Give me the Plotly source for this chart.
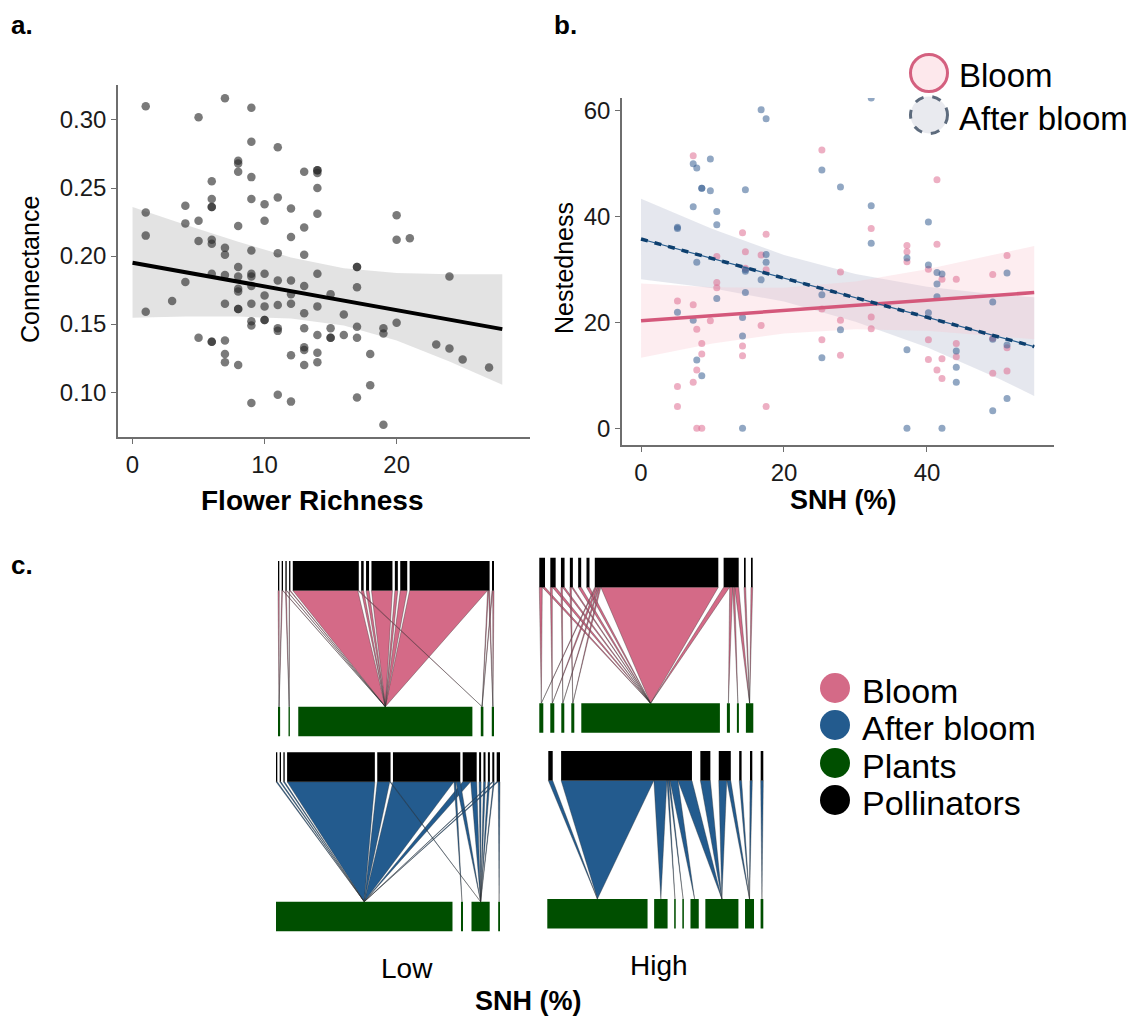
import plotly.graph_objects as go

W, H = 1134, 1017
FONT = "Arial, 'Liberation Sans', Helvetica, sans-serif"


def px(x):
    return x / W


def py(y):
    return 1 - y / H


# ---------------- Panel a: connectance vs flower richness ----------------
richness = [1, 1, 1, 1, 3, 4, 4, 4, 5, 5, 5, 5,
            6, 6, 6, 6, 6, 6, 6, 6, 6,
            7, 7, 7, 7, 7, 7, 7, 7,
            8, 8, 8, 8, 8, 8, 8, 8, 8, 8, 8,
            9, 9, 9, 9, 9, 9, 9, 9, 9, 9, 9, 9,
            10, 10, 10, 10, 10, 10, 10,
            11, 11, 11, 11, 11, 11, 11, 11,
            12, 12, 12, 12, 12, 12, 12,
            13, 13, 13, 13, 13, 13, 13, 13, 13,
            14, 14, 14, 14, 14, 14, 14, 14, 14, 14,
            15, 15, 15, 15, 16, 16,
            17, 17, 17, 17, 17, 17, 18, 18, 19, 19, 19,
            20, 20, 20, 21, 23, 24, 24, 25, 27]
connectance = [0.310, 0.232, 0.215, 0.159, 0.167, 0.237, 0.224, 0.181, 0.302, 0.226, 0.211, 0.140,
               0.255, 0.242, 0.236, 0.236, 0.212, 0.209, 0.187, 0.137, 0.137,
               0.316, 0.206, 0.201, 0.186, 0.165, 0.138, 0.128, 0.122,
               0.270, 0.268, 0.262, 0.222, 0.192, 0.185, 0.176, 0.174, 0.161, 0.161, 0.120,
               0.309, 0.284, 0.258, 0.242, 0.204, 0.187, 0.185, 0.178, 0.165, 0.152, 0.149, 0.092,
               0.238, 0.226, 0.187, 0.171, 0.163, 0.153, 0.153,
               0.280, 0.243, 0.202, 0.182, 0.164, 0.147, 0.145, 0.098,
               0.235, 0.214, 0.182, 0.172, 0.165, 0.127, 0.093,
               0.262, 0.221, 0.201, 0.178, 0.158, 0.147, 0.133, 0.131, 0.120,
               0.263, 0.263, 0.261, 0.250, 0.231, 0.187, 0.163, 0.142, 0.129, 0.122,
               0.172, 0.147, 0.140, 0.140, 0.157, 0.142,
               0.192, 0.192, 0.177, 0.148, 0.140, 0.096, 0.128, 0.105, 0.147, 0.143, 0.076,
               0.230, 0.212, 0.151, 0.213, 0.135, 0.185, 0.132, 0.124, 0.118]
a_fit_x = [0, 28]
a_fit_y = [0.1951, 0.1463]
a_band_x = [0, 4, 8, 12, 16, 20, 24, 28]
a_band_hi = [0.2361, 0.2230, 0.2105, 0.1990, 0.1910, 0.1875, 0.1866, 0.1866]
a_band_lo = [0.1546, 0.1555, 0.1555, 0.1540, 0.1490, 0.1380, 0.1225, 0.1054]

# ---------------- Panel b: nestedness vs SNH ----------------
bloom_snh = [5.1, 5.1, 5.1, 7.3, 7.3, 7.3, 7.8, 7.8, 7.8, 8.5, 8.5, 8.5, 9.7,
             10.6, 10.6, 10.6, 14.2, 14.2, 14.2, 14.6, 14.6, 16.8, 16.8, 17.5, 17.5, 17.5,
             25.3, 25.3, 25.3, 27.9, 27.9, 27.9, 32.2, 32.2, 32.2, 37.2, 37.2, 37.2,
             40.2, 40.2, 40.2, 41.4, 41.4, 41.4, 42.1, 42.1, 42.1, 44.1, 44.1, 44.1,
             49.2, 49.2, 49.2, 51.2, 51.2, 51.2]
bloom_nest = [24.0, 7.9, 4.1, 51.4, 23.3, 8.7, 18.7, 11.0, 0.0, 16.0, 14.0, 0.0, 20.3,
              32.4, 27.5, 26.5, 36.9, 15.5, 13.7, 33.3, 30.2, 32.7, 19.4, 36.6, 29.9, 4.1,
              52.5, 22.5, 16.7, 29.5, 20.4, 13.8, 37.7, 21.0, 18.8, 34.5, 33.3, 31.4,
              30.0, 16.7, 13.0, 46.9, 34.7, 11.0, 28.1, 13.1, 9.4, 28.1, 16.0, 13.5,
              29.0, 17.0, 10.4, 32.6, 15.2, 10.8]
after_snh = [5.1, 5.1, 5.1, 7.3, 7.3, 7.3, 7.8, 7.8, 7.8, 8.5, 8.5, 8.5, 9.7, 9.7,
             10.6, 10.6, 10.6, 14.2, 14.2, 14.2, 14.6, 14.6, 14.6, 14.6, 16.8, 16.8,
             17.5, 17.5, 17.5, 25.3, 25.3, 25.3, 27.9, 27.9, 32.2, 32.2, 32.2,
             37.2, 37.2, 37.2, 40.2, 40.2, 40.2, 41.4, 41.4, 41.4, 42.1, 42.1,
             44.1, 44.1, 44.1, 49.2, 49.2, 49.2, 51.2, 51.2, 51.2]
after_nest = [37.9, 37.7, 21.9, 49.9, 41.8, 20.4, 49.1, 31.3, 12.9, 45.3, 45.3, 9.9, 50.8, 44.8,
              40.9, 38.4, 24.5, 20.9, 17.4, 0.0, 45.0, 29.9, 29.6, 25.6, 60.1, 28.0,
              58.4, 32.8, 31.3, 48.7, 25.2, 13.3, 45.5, 18.6, 62.3, 42.0, 34.9,
              32.1, 14.8, 0.0, 38.9, 30.8, 21.8, 29.4, 27.2, 24.8, 29.1, 0.0,
              14.6, 11.5, 8.7, 23.8, 16.8, 3.3, 29.3, 15.7, 5.6]
b_fit_x = [0, 55]
bloom_fit = [20.3, 25.6]
after_fit = [35.7, 15.4]
b_band_x = [0, 10, 20, 30, 40, 50, 55]
bloom_hi = [27.3, 26.6, 26.5, 27.7, 30.0, 32.9, 34.4]
bloom_lo = [13.3, 16.0, 17.9, 18.7, 18.4, 17.3, 16.8]
after_hi = [43.3, 37.6, 32.7, 29.1, 26.7, 25.2, 24.7]
after_lo = [28.1, 26.4, 23.9, 20.1, 15.3, 9.4, 6.1]

# ---------------- Panel c: interaction webs ----------------
# one list per pollinator (left to right): (plant index, interaction weight)
web_bloom_low = [
    [(0, 1.3)],
    [(0, 0.9), (2, 0.4)],
    [(1, 0.9), (2, 0.4)],
    [(1, 0.5), (2, 0.8)],
    [(2, 65), (3, 1)],
    [(2, 2.5)],
    [(2, 3)],
    [(2, 21)],
    [(2, 3)],
    [(2, 7)],
    [(2, 78), (3, 1), (4, 1)],
    [(3, 0.7), (4, 1.3)],
]
web_bloom_high = [
    [(0, 3), (4, 2.7)],
    [(1, 2), (4, 3.3)],
    [(2, 1.5), (4, 2.1)],
    [(3, 1.5), (4, 1.5)],
    [(4, 3)],
    [(4, 3)],
    [(0, 1), (1, 2), (2, 1.5), (3, 1.5), (4, 117)],
    [(4, 6), (5, 3), (6, 2), (7, 4)],
    [(7, 1.7)],
    [(7, 1.7)],
]
web_after_low = [
    [(0, 1.3)],
    [(0, 1.3)],
    [(0, 1.3)],
    [(0, 87.7)],
    [(0, 12.5), (2, 0.8)],
    [(0, 61), (1, 2), (2, 4.3)],
    [(0, 8), (2, 6)],
    [(2, 2)],
    [(2, 2)],
    [(2, 2)],
    [(0, 1), (2, 1)],
    [(0, 1.5), (3, 1.8)],
]
web_after_high = [
    [(0, 4.4)],
    [(0, 92.6), (1, 13), (2, 1.5), (3, 1.5), (4, 8), (5, 14)],
    [(5, 10)],
    [(5, 8), (6, 4)],
    [(6, 2.4)],
    [(6, 2.3)],
    [(7, 2.6)],
]

PINK = "#d46a87"
BLUE = "#235b8e"
GREEN = "#004f00"

fig = go.Figure()

# ---- panel a traces ----
fig.add_trace(go.Scatter(x=a_band_x + a_band_x[::-1], y=a_band_hi + a_band_lo[::-1],
                         fill="toself", fillcolor="rgba(153,153,153,0.28)", mode="lines",
                         line=dict(width=0), hoverinfo="skip", xaxis="x", yaxis="y"))
fig.add_trace(go.Scatter(x=richness, y=connectance, mode="markers",
                         marker=dict(size=8.5, color="rgba(40,40,40,0.62)", line=dict(width=0)),
                         xaxis="x", yaxis="y"))
fig.add_trace(go.Scatter(x=a_fit_x, y=a_fit_y, mode="lines", line=dict(color="black", width=4),
                         xaxis="x", yaxis="y"))

# ---- panel b traces ----
fig.add_trace(go.Scatter(x=b_band_x + b_band_x[::-1], y=after_hi + after_lo[::-1],
                         fill="toself", fillcolor="rgba(170,175,200,0.30)", mode="lines",
                         line=dict(width=0), hoverinfo="skip", xaxis="x2", yaxis="y2"))
fig.add_trace(go.Scatter(x=b_band_x + b_band_x[::-1], y=bloom_hi + bloom_lo[::-1],
                         fill="toself", fillcolor="rgba(250,195,205,0.30)", mode="lines",
                         line=dict(width=0), hoverinfo="skip", xaxis="x2", yaxis="y2"))
fig.add_trace(go.Scatter(x=bloom_snh, y=bloom_nest, mode="markers",
                         marker=dict(size=7, color="rgba(222,110,145,0.55)", line=dict(width=0)),
                         xaxis="x2", yaxis="y2"))
fig.add_trace(go.Scatter(x=after_snh, y=after_nest, mode="markers",
                         marker=dict(size=7, color="rgba(55,95,145,0.55)", line=dict(width=0)),
                         xaxis="x2", yaxis="y2"))
fig.add_trace(go.Scatter(x=b_fit_x, y=bloom_fit, mode="lines", line=dict(color="#d4587b", width=3.5),
                         xaxis="x2", yaxis="y2"))
fig.add_trace(go.Scatter(x=b_fit_x, y=after_fit, mode="lines", line=dict(color="#2a5f8f", width=1.2),
                         xaxis="x2", yaxis="y2"))
fig.add_trace(go.Scatter(x=b_fit_x, y=after_fit, mode="lines",
                         line=dict(color="#0d3f6e", width=3.5, dash="7px,7px"),
                         xaxis="x2", yaxis="y2"))


# ---- panel c: bipartite webs drawn in a pixel-scaled hidden axis ----
def row_layout(totals, x0, x1, gap):
    s = (x1 - x0 - gap * (len(totals) - 1)) / sum(totals)
    pos, x = [], x0
    for t in totals:
        pos.append((x, x + t * s))
        x += t * s + gap
    return pos, s


BOX_H = 29.5


def draw_web(web, color, ox, poll_span, plant_span, top_y, bot_y, poll_gap, plant_gap):
    n_plants = 1 + max(i for l in web for i, _ in l)
    poll_tot = [sum(w for _, w in l) for l in web]
    plant_tot = [0.0] * n_plants
    for l in web:
        for i, w in l:
            plant_tot[i] += w
    ppos, ps = row_layout(poll_tot, ox + poll_span[0], ox + poll_span[1], poll_gap)
    lpos, _ = row_layout(plant_tot, ox + plant_span[0], ox + plant_span[1], plant_gap)
    y_link_top = top_y + BOX_H
    polys = []
    for j, l in enumerate(web):
        cur = ppos[j][0]
        for i, w in sorted(l):
            x0, x1 = cur, cur + w * ps
            cur = x1
            cx = (lpos[i][0] + lpos[i][1]) / 2
            polys.append((w, x0, x1, cx))
    # wide links first, thin links drawn on top
    for w, x0, x1, cx in sorted(polys, key=lambda p: -p[0]):
        fig.add_trace(go.Scatter(x=[x0, x1, cx, x0], y=[y_link_top, y_link_top, bot_y, y_link_top],
                                 fill="toself", fillcolor=color, mode="lines",
                                 line=dict(color="rgba(45,45,45,0.6)", width=0.6),
                                 hoverinfo="skip", xaxis="x3", yaxis="y3"))
    for boxes, y0, col in ((ppos, top_y, "black"), (lpos, bot_y, GREEN)):
        xs, ys = [], []
        for a, b in boxes:
            xs += [a, b, b, a, a, None]
            ys += [y0, y0, y0 + BOX_H, y0 + BOX_H, y0, None]
        fig.add_trace(go.Scatter(x=xs, y=ys, fill="toself", fillcolor=col, mode="lines",
                                 line=dict(width=0, color=col), hoverinfo="skip",
                                 xaxis="x3", yaxis="y3"))


draw_web(web_bloom_low, PINK, 270, (8, 224), (8, 224), 561, 706.7, 2.4, 8.4)
draw_web(web_bloom_high, PINK, 530, (9.3, 222.7), (9.3, 223.3), 557.7, 703.3, 5.3, 7.0)
draw_web(web_after_low, BLUE, 270, (6, 230), (6, 230), 752.3, 901.7, 2.4, 8.5)
draw_web(web_after_high, BLUE, 530, (18.3, 233.3), (17.3, 233.3), 751, 899, 8.4, 6.6)

axis_common = dict(showline=True, linecolor="#6e6e6e", linewidth=1.6, ticks="outside", ticklen=5,
                   tickwidth=1.3, tickcolor="#6e6e6e", showgrid=False, zeroline=False,
                   tickfont=dict(family=FONT, size=24, color="#1a1a1a"), mirror=False)

fig.update_layout(
    width=W, height=H, margin=dict(l=0, r=0, t=0, b=0),
    paper_bgcolor="white", plot_bgcolor="rgba(0,0,0,0)", showlegend=False,
    font=dict(family=FONT, color="black"),
    xaxis=dict(domain=[px(118), px(530)], range=[-1.1, 30.1], tickvals=[0, 10, 20], anchor="y", **axis_common),
    yaxis=dict(domain=[py(437), py(85)], range=[0.067, 0.3257], tickvals=[0.10, 0.15, 0.20, 0.25, 0.30],
               tickformat=".2f", anchor="x", **axis_common),
    xaxis2=dict(domain=[px(622), px(1053.5)], range=[-2.66, 57.7], tickvals=[0, 20, 40], anchor="y2", **axis_common),
    yaxis2=dict(domain=[py(445), py(98)], range=[-3.15, 62.3], tickvals=[0, 20, 40, 60], anchor="x2", **axis_common),
    xaxis3=dict(domain=[px(250), px(790)], range=[250, 790], visible=False, anchor="y3"),
    yaxis3=dict(domain=[py(950), py(545)], range=[950, 545], visible=False, anchor="x3"),
)

ann = []


def text(x, y, s, size, bold=False, anchor="center", angle=0):
    ann.append(dict(x=px(x), y=py(y), xref="paper", yref="paper", text=f"<b>{s}</b>" if bold else s,
                    showarrow=False, xanchor=anchor, yanchor="middle", textangle=angle,
                    font=dict(family=FONT, size=size, color="black")))


text(22, 25, "a.", 26, bold=True)
text(565, 25, "b.", 26, bold=True)
text(22, 565, "c.", 26, bold=True)
text(312, 500, "Flower Richness", 28, bold=True)
text(843, 500, "SNH (%)", 27, bold=True)
text(30, 270, "Connectance", 25, angle=-90)
text(564, 268, "Nestedness", 25, angle=-90)
text(407, 968, "Low", 28)
text(659, 965, "High", 28)
text(528, 1001, "SNH (%)", 27, bold=True)

shapes = []


def circle(cx, cy, r, fill, line_color=None, lw=0, dash="solid"):
    shapes.append(dict(type="circle", xref="paper", yref="paper",
                       x0=px(cx - r), x1=px(cx + r), y0=py(cy + r), y1=py(cy - r),
                       fillcolor=fill, line=dict(color=line_color or fill, width=lw, dash=dash)))


# panel b legend
circle(929, 73, 18.5, "#fde8ec", "#d4607f", 3)
circle(929, 115, 18.5, "#e9eaef", "#5d6b7d", 3, "dash")
text(957, 75, "Bloom", 33, anchor="left")
text(957, 118, "After bloom", 33, anchor="left")

# panel c legend
for cy, col, lab in ((688, PINK, "Bloom"), (725, BLUE, "After bloom"), (763, GREEN, "Plants"), (800, "black", "Pollinators")):
    circle(835, cy, 15, col)
    text(860, cy + 3, lab, 34, anchor="left")

fig.update_layout(annotations=ann, shapes=shapes)

fig.write_html("out.html", config={"displayModeBar": False},
               post_script="document.body.style.margin='0';document.body.style.overflow='hidden';")
